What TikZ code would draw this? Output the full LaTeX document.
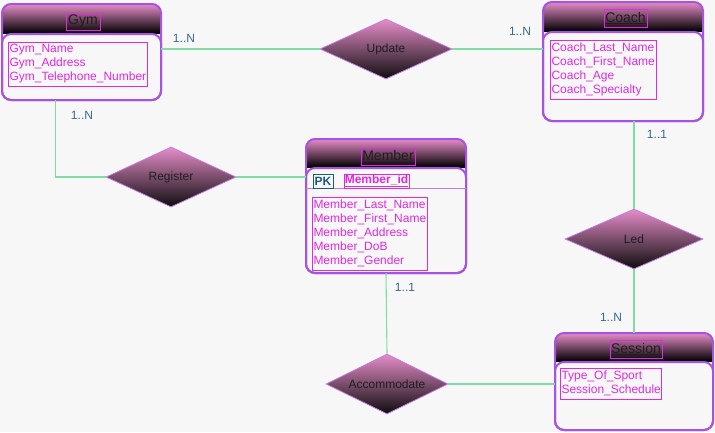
\documentclass[tikz,border=0pt]{standalone}
\usepackage{fontspec}
\setmainfont{Liberation Sans}
\usetikzlibrary{shapes.geometric,calc,fit}

\definecolor{bg}{HTML}{F7F7F7}
\definecolor{framecol}{HTML}{A652E3}
\definecolor{pinktop}{HTML}{E68DC8}
\definecolor{attrcol}{HTML}{E02AE0}
\definecolor{linkgreen}{HTML}{7FDCA4}
\definecolor{cardcol}{HTML}{3A6A8A}
\definecolor{pkcol}{HTML}{1E5A7A}
\definecolor{titletext}{HTML}{1E1E1E}
\definecolor{rulecol}{HTML}{C27AE6}

\tikzset{
  x=1pt, y=-1pt,
  % attribute list box: width, height
  attrbox/.style 2 args={draw=attrcol, line width=1pt, text=attrcol, align=left,
    anchor=north west, inner sep=1.5pt, text width=#1pt-3pt, minimum height=#2pt,
    font=\fontsize{12}{14}\selectfont},
  % entity title box: width, height
  titlebox/.style 2 args={draw=attrcol, line width=1pt, text=titletext, inner sep=0pt,
    anchor=north west, minimum width=#1pt, minimum height=#2pt,
    font=\fontsize{14}{16}\selectfont},
  keybox/.style 2 args={draw=#1, line width=1pt, text=#1, inner sep=0pt,
    anchor=north west, minimum width=#2pt, minimum height=14pt,
    font=\fontsize{12}{14}\selectfont\bfseries},
  relation/.style={diamond, aspect=2, draw=rulecol, line width=0.8pt, inner sep=0pt,
    top color=pinktop, bottom color=black!95, text=titletext,
    font=\fontsize{12}{14}\selectfont},
  connector/.style={draw=linkgreen, line width=1.1pt},
  card/.style={text=cardcol, font=\fontsize{12}{14}\selectfont, inner sep=0pt},
}

% \entityframe{name}{x1}{y1}{x2}{y2}{header bottom}
\newcommand\entityframe[6]{%
  \begin{scope}
    \clip[rounded corners=9pt] (#2,#3) rectangle (#4,#5);
    \shade[top color=pinktop, bottom color=black] (#2,#3) rectangle (#4,#6);
  \end{scope}
  \draw[framecol, line width=2pt, rounded corners=9pt, fill=bg] (#2,#6+1) rectangle (#4,#5);
  \draw[framecol, line width=2pt, rounded corners=9pt] (#2,#3) rectangle (#4,#5);
  \coordinate (#1-nw) at (#2,#3);
  \coordinate (#1-se) at (#4,#5);
  \node[fit=(#1-nw)(#1-se), inner sep=0pt] (#1) {};
}

\begin{document}
\begin{tikzpicture}
  \fill[bg] (0,0) rectangle (715,432);
  \useasboundingbox (0,0) rectangle (715,432);

  % relationships
  \node[relation, minimum width=132pt, minimum height=60pt] (update) at (386,49) {Update};
  \node[relation, minimum width=130pt, minimum height=60pt] (register) at (171,177) {Register};
  \node[relation, minimum width=138pt, minimum height=60pt] (led) at (634,239) {Led};
  \node[relation, minimum width=122pt, minimum height=60pt] (accommodate) at (387,384) {Accommodate};

  % Gym
  \entityframe{gym}{2}{4}{161}{100}{33}
  \node[titlebox={34}{16}] (gymtitle) at (65.5,13.5) {\underline{Gym}};
  \node[attrbox={139}{44}] (gymattr) at (7.5,41.5) {Gym\_Name\\Gym\_Address\\Gym\_Telephone\_Number};

  % Coach
  \entityframe{coach}{543}{2}{703}{121}{31}
  \node[titlebox={43}{18}] (coachtitle) at (603.5,8.5) {\underline{Coach}};
  \node[attrbox={106}{59}] (coachattr) at (549.5,39.5) {Coach\_Last\_Name\\Coach\_First\_Name\\Coach\_Age\\Coach\_Specialty};

  % Member
  \entityframe{member}{306}{139}{466}{273}{167}
  \node[titlebox={54}{17}] (membertitle) at (360.5,147.5) {\underline{Member}};
  \draw[rulecol, line width=1.5pt] (member.west |- 0,188.5) -- (member.east |- 0,188.5);
  \node[keybox={pkcol}{20}] (pk) at (312.5,173.5) {PK};
  \node[keybox={attrcol}{65}] (memberid) at (343.5,173.5) {\underline{Member\_id}};
  \node[attrbox={115}{73}] (memberattr) at (311.5,196.5) {Member\_Last\_Name\\Member\_First\_Name\\Member\_Address\\Member\_DoB\\Member\_Gender};

  % Session
  \entityframe{session}{555}{333}{713}{430}{361}
  \node[titlebox={52}{18}] (sessiontitle) at (609.5,339.5) {\underline{Session}};
  \node[attrbox={101}{31}] (sessionattr) at (559.5,367.5) {Type\_Of\_Sport\\Session\_Schedule};

  % connectors
  \draw[connector] (update.west) -- (update.west -| gym.east);
  \draw[connector] (update.east) -- (update.east -| coach.west);
  \coordinate (gymdrop) at ($(gym.south west)!0.335!(gym.south east)$);
  \draw[connector] (register.west) -| (gymdrop);
  \draw[connector] (register.east) -- (register.east -| member.west);
  \draw[connector] (led.north) -- (led.north |- coach.south);
  \draw[connector] (led.south) -- (led.south |- session.north);
  \draw[connector] (accommodate.north) -- (member.south);
  \draw[connector] (accommodate.east) -- (accommodate.east -| session.west);

  % cardinalities
  \node[card] (c1) at (184,38) {1..N};
  \node[card] (c2) at (520,31) {1..N};
  \node[card] (c3) at (82,115) {1..N};
  \node[card] (c4) at (657,134) {1..1};
  \node[card] (c5) at (405,287) {1..1};
  \node[card] (c6) at (611,317) {1..N};
\end{tikzpicture}
\end{document}
